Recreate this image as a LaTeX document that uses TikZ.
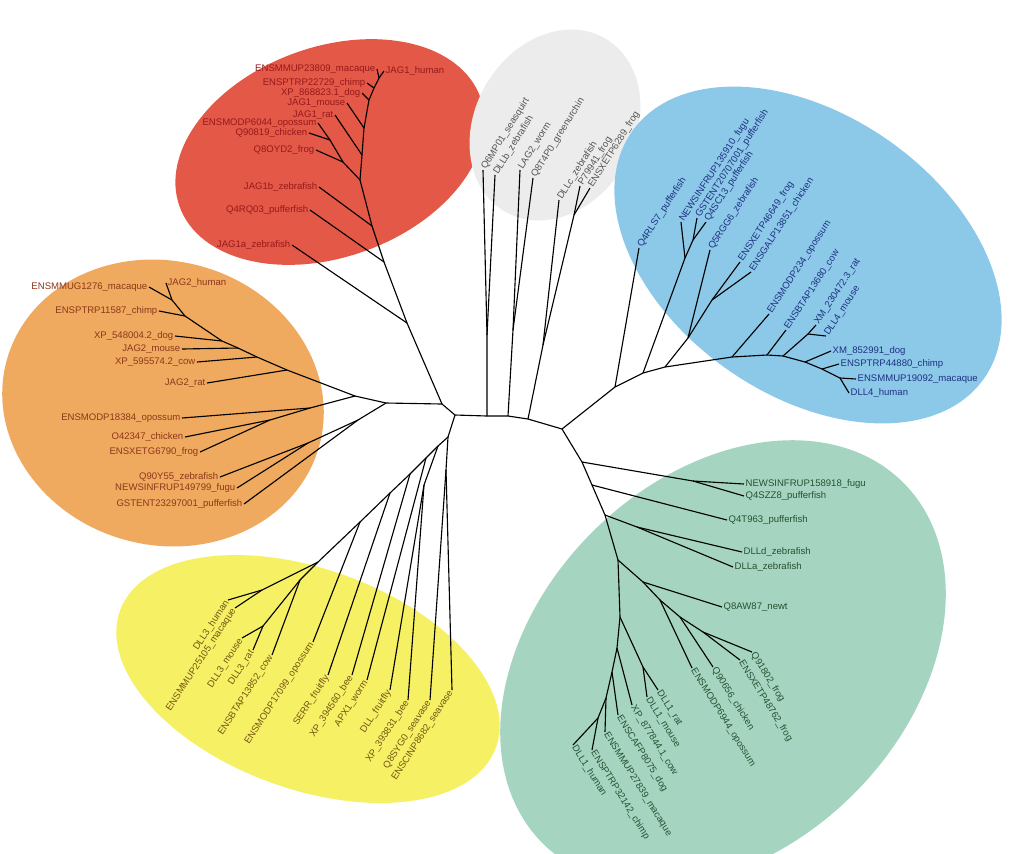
\documentclass[tikz,border=0pt]{standalone}
\usepackage{fontspec}
\setmainfont{Liberation Sans}
\usetikzlibrary{positioning}

\definecolor{redfill}{RGB}{228,88,72}
\definecolor{redtext}{RGB}{150,25,25}
\definecolor{grayfill}{RGB}{236,236,236}
\definecolor{graytext}{RGB}{85,85,85}
\definecolor{bluefill}{RGB}{140,200,232}
\definecolor{bluetext}{RGB}{30,50,130}
\definecolor{orgfill}{RGB}{240,170,95}
\definecolor{orgtext}{RGB}{140,55,25}
\definecolor{yelfill}{RGB}{246,240,100}
\definecolor{yeltext}{RGB}{115,85,20}
\definecolor{grnfill}{RGB}{165,213,192}
\definecolor{grntext}{RGB}{40,80,50}

\begin{document}
\begin{tikzpicture}[x=0.25mm, y=-0.25mm,
  br/.style={line width=0.8pt, black, line join=round},
  lbl/.style={inner sep=1pt, font=\fontsize{6.8}{8}\selectfont},
  redlbl/.style={lbl, text=redtext, anchor=east},
  graylbl/.style={lbl, text=graytext, rotate=58, anchor=west},
  bluelbl/.style={lbl, text=bluetext, rotate=57, anchor=west},
  bluehlbl/.style={lbl, text=bluetext, anchor=west},
  orglbl/.style={lbl, text=orgtext, anchor=east},
  yellbl/.style={lbl, text=yeltext, rotate=57, anchor=east},
  grnlbl/.style={lbl, text=grntext, rotate=-58, anchor=west},
  grnhlbl/.style={lbl, text=grntext, anchor=west},
]

% ---- background ----
\fill[white] (0,0) rectangle (1011,853);
\useasboundingbox (0,0) rectangle (1011,853);
\fill[redfill, rotate around={20:(330,152)}] (330,152) ellipse [x radius=160, y radius=105];
\fill[grayfill, rotate around={60:(555,125)}] (555,125) ellipse [x radius=100, y radius=80];
\fill[bluefill, rotate around={-35:(808,255)}] (808,255) ellipse [x radius=215, y radius=140];
\fill[orgfill, rotate around={-15:(163,403)}] (163,403) ellipse [x radius=162, y radius=142];
\fill[yelfill, rotate around={-20:(308,679)}] (308,679) ellipse [x radius=200, y radius=110];
\fill[grnfill, rotate around={45:(723,663)}] (723,663) ellipse [x radius=255, y radius=185];

% ---- centre ----
\coordinate (ca) at (455,415);
\coordinate (cb) at (487,416);
\coordinate (cc) at (508,416);
\coordinate (cd) at (528,419);
\coordinate (ce) at (562,429);
\coordinate (cf) at (442,404);
\draw[br] (cf) -- (ca) -- (cb) -- (cc) -- (cd) -- (ce);

% ---- JAG1 ----
\node[redlbl] (jag1-macaque) at (377,69) {ENSMMUP23809\_macaque};
\node[redlbl, anchor=west] (jag1-human) at (384,71) {JAG1\_human};
\node[redlbl] (jag1-chimp) at (367,83) {ENSPTRP22729\_chimp};
\node[redlbl] (jag1-dog) at (362,93) {XP\_868823.1\_dog};
\node[redlbl] (jag1-mouse) at (347,103) {JAG1\_mouse};
\node[redlbl] (jag1-rat) at (335,115) {JAG1\_rat};
\node[redlbl] (jag1-opossum) at (318,123) {ENSMODP6044\_opossum};
\node[redlbl] (jag1-chicken) at (309,133) {Q90819\_chicken};
\node[redlbl] (jag1-frog) at (316,150) {Q8OYD2\_frog};
\node[redlbl] (jag1b-zebrafish) at (319,187) {JAG1b\_zebrafish};
\node[redlbl] (jag1-pufferfish) at (310,210) {Q4RQ03\_pufferfish};
\node[redlbl] (jag1a-zebrafish) at (292,245) {JAG1a\_zebrafish};

\coordinate (r1) at (407,323);
\coordinate (r2) at (384,262);
\coordinate (r3) at (372,226);
\coordinate (r4) at (360,180);
\coordinate (r5) at (343,162);
\coordinate (r5b) at (330,140);
\coordinate (r6) at (362,155);
\coordinate (r7) at (364,128);
\coordinate (r8) at (369,100);
\coordinate (r9) at (374,88);
\coordinate (r10) at (379,78);

\draw[br] (cf) -- (r1) -- (r2) -- (r3) -- (r4) -- (r6) -- (r7) -- (r8) -- (r9) -- (r10) -- (jag1-human.west);
\draw[br] (r10) -- (jag1-macaque.east);
\draw[br] (r9) -- (jag1-chimp.east);
\draw[br] (r8) -- (jag1-dog.east);
\draw[br] (r7) -- (jag1-mouse.east);
\draw[br] (r6) -- (jag1-rat.east);
\draw[br] (r4) -- (r5) -- (r5b) -- (jag1-opossum.east);
\draw[br] (r5b) -- (jag1-chicken.east);
\draw[br] (r5) -- (jag1-frog.east);
\draw[br] (r3) -- (jag1b-zebrafish.east);
\draw[br] (r2) -- (jag1-pufferfish.east);
\draw[br] (r1) -- (jag1a-zebrafish.east);

% ---- invertebrate / DLLb-c ----
\node[graylbl] (dl-seasquirt) at (483,170) {Q6MP01\_seasquirt};
\node[graylbl] (dllb-zebrafish) at (495,175) {DLLb\_zebrafish};
\node[graylbl] (lag2-worm) at (520,170) {LAG2\_worm};
\node[graylbl] (dl-urchin) at (533,178) {Q8T4P0\_greenurchin};
\node[graylbl] (dllc-zebrafish) at (559,200) {DLLc\_zebrafish};
\node[graylbl] (dl-frog-a) at (580,186) {P79941\_frog};
\node[graylbl] (dl-frog-b) at (590,188) {ENSXETP6289\_frog};

\coordinate (g1) at (487,335);
\coordinate (g2) at (513,330);
\coordinate (g3) at (543,345);
\coordinate (g4) at (574,215);

\draw[br] (cb) -- (g1) -- (dl-seasquirt.west);
\draw[br] (g1) -- (dllb-zebrafish.west);
\draw[br] (cc) -- (g2) -- (lag2-worm.west);
\draw[br] (g2) -- (dl-urchin.west);
\draw[br] (cd) -- (g3) -- (dllc-zebrafish.west);
\draw[br] (g3) -- (g4) -- (dl-frog-a.west);
\draw[br] (g4) -- (dl-frog-b.west);

% ---- DLL4 ----
\node[bluelbl] (dll4-pufferfish-a) at (639,248) {Q4RLS7\_pufferfish};
\node[bluelbl] (dll4-fugu) at (681,222) {NEWSINFRUP135910\_fugu};
\node[bluelbl] (dll4-pufferfish-b) at (697,218) {GSTENT20707001\_pufferfish};
\node[bluelbl] (dll4-pufferfish-c) at (706,222) {Q4SC13\_pufferfish};
\node[bluelbl] (dll4-zebrafish) at (710,250) {Q5RGG6\_zebrafish};
\node[bluelbl] (dll4-frog) at (740,262) {ENSXETP46649\_frog};
\node[bluelbl] (dll4-chicken) at (751,272) {ENSGALP13851\_chicken};
\node[bluelbl] (dll4-opossum) at (769,314) {ENSMODP234\_opossum};
\node[bluelbl] (dll4-cow) at (786,330) {ENSBTAP13680\_cow};
\node[bluelbl] (dll4-rat) at (816,325) {XM\_230472.3\_rat};
\node[bluelbl] (dll4-mouse) at (826,336) {DLL4\_mouse};
\node[bluehlbl] (dll4-dog) at (831,351) {XM\_852991\_dog};
\node[bluehlbl] (dll4-chimp) at (839,364) {ENSPTRP44880\_chimp};
\node[bluehlbl] (dll4-macaque) at (856,379) {ENSMMUP19092\_macaque};
\node[bluehlbl] (dll4-human) at (849,393) {DLL4\_human};

\coordinate (b1) at (615,387);
\coordinate (b2) at (643,373);
\coordinate (b2a) at (685,258);
\coordinate (b2b) at (693,240);
\coordinate (b3) at (665,367);
\coordinate (b3a) at (688,338);
\coordinate (b4) at (712,300);
\coordinate (b5) at (732,357);
\coordinate (b6) at (767,355);
\coordinate (b7) at (783,356);
\coordinate (b7a) at (808,334);
\coordinate (b8) at (805,362);
\coordinate (b9) at (822,369);
\coordinate (b10) at (840,378);

\draw[br] (ce) -- (b1) -- (b2) -- (b3) -- (b5) -- (b6) -- (b7) -- (b8) -- (b9) -- (b10) -- (dll4-human.west);
\draw[br] (b1) -- (dll4-pufferfish-a.west);
\draw[br] (b2) -- (b2a) -- (dll4-fugu.west);
\draw[br] (b2a) -- (b2b) -- (dll4-pufferfish-b.west);
\draw[br] (b2b) -- (dll4-pufferfish-c.west);
\draw[br] (b3) -- (b3a) -- (dll4-zebrafish.west);
\draw[br] (b3a) -- (b4) -- (dll4-frog.west);
\draw[br] (b4) -- (dll4-chicken.west);
\draw[br] (b5) -- (dll4-opossum.west);
\draw[br] (b6) -- (dll4-cow.west);
\draw[br] (b7) -- (b7a) -- (dll4-rat.west);
\draw[br] (b7a) -- (dll4-mouse.west);
\draw[br] (b8) -- (dll4-dog.west);
\draw[br] (b9) -- (dll4-chimp.west);
\draw[br] (b10) -- (dll4-macaque.west);

% ---- JAG2 ----
\node[orglbl] (jag2-macaque) at (149,287) {ENSMMUG1276\_macaque};
\node[orglbl, anchor=west] (jag2-human) at (166,283) {JAG2\_human};
\node[orglbl] (jag2-chimp) at (159,311) {ENSPTRP11587\_chimp};
\node[orglbl] (jag2-dog) at (175,336) {XP\_548004.2\_dog};
\node[orglbl] (jag2-mouse) at (182,349) {JAG2\_mouse};
\node[orglbl] (jag2-cow) at (197,362) {XP\_595574.2\_cow};
\node[orglbl] (jag2-rat) at (207,383) {JAG2\_rat};
\node[orglbl] (jag2-opossum) at (182,418) {ENSMODP18384\_opossum};
\node[orglbl] (jag2-chicken) at (185,437) {O42347\_chicken};
\node[orglbl] (jag2-frog) at (200,452) {ENSXETG6790\_frog};
\node[orglbl] (jag2-zebrafish) at (220,477) {Q90Y55\_zebrafish};
\node[orglbl] (jag2-fugu) at (237,488) {NEWSINFRUP149799\_fugu};
\node[orglbl] (jag2-pufferfish) at (244,504) {GSTENT23297001\_pufferfish};

\coordinate (o0) at (386,403);
\coordinate (o1) at (355,396);
\coordinate (o2) at (287,370);
\coordinate (o3) at (257,357);
\coordinate (o4) at (238,348);
\coordinate (o5) at (222,341);
\coordinate (o6) at (185,316);
\coordinate (o7) at (172,300);
\coordinate (oo) at (310,408);
\coordinate (oo1) at (270,420);
\coordinate (of) at (358,420);
\coordinate (of1) at (308,443);

\draw[br] (cf) -- (o0) -- (o1) -- (o2) -- (o3) -- (o4) -- (o5) -- (o6) -- (o7) -- (jag2-human.west);
\draw[br] (o7) -- (jag2-macaque.east);
\draw[br] (o6) -- (jag2-chimp.east);
\draw[br] (o5) -- (jag2-dog.east);
\draw[br] (o4) -- (jag2-mouse.east);
\draw[br] (o3) -- (jag2-cow.east);
\draw[br] (o2) -- (jag2-rat.east);
\draw[br] (o1) -- (oo) -- (jag2-opossum.east);
\draw[br] (oo) -- (oo1) -- (jag2-chicken.east);
\draw[br] (oo1) -- (jag2-frog.east);
\draw[br] (o0) -- (of) -- (of1) -- (jag2-zebrafish.east);
\draw[br] (of1) -- (jag2-fugu.east);
\draw[br] (of) -- (jag2-pufferfish.east);

% ---- DLL3 / invertebrates ----
\node[yellbl] (dll3-human) at (228,600) {DLL3\_human};
\node[yellbl] (dll3-macaque) at (235,608) {ENSMMUP25105\_macaque};
\node[yellbl] (dll3-mouse) at (242,638) {DLL3\_mouse};
\node[yellbl] (dll3-rat) at (253,650) {DLL3\_rat};
\node[yellbl] (dll3-cow) at (272,655) {ENSBTAP13852\_cow};
\node[yellbl] (dll3-opossum) at (313,642) {ENSMODP17099\_opossum};
\node[yellbl] (serr-fruitfly) at (328,675) {SERR\_fruitfly};
\node[yellbl] (serr-bee) at (352,675) {XP\_394560\_bee};
\node[yellbl] (apx1-worm) at (367,680) {APX1\_worm};
\node[yellbl] (dl-fruitfly) at (390,690) {DLL\_fruitfly};
\node[yellbl] (dl-bee) at (408,700) {XP\_393831\_bee};
\node[yellbl] (dl-seavase-a) at (430,700) {Q8SYG0\_seavase};
\node[yellbl] (dl-seavase-b) at (452,690) {ENSCINP8682\_seavase};

\coordinate (ya) at (448,437);
\coordinate (ysea) at (446,470);
\coordinate (yb) at (438,446);
\coordinate (yi) at (424,485);
\coordinate (yc) at (426,458);
\coordinate (yd) at (410,474);
\coordinate (ye) at (390,493);
\coordinate (yf) at (360,522);
\coordinate (y0) at (318,562);
\coordinate (y1) at (262,590);
\coordinate (y2) at (300,580);
\coordinate (y3) at (263,626);

\draw[br] (ca) -- (ya) -- (yb) -- (yc) -- (yd) -- (ye) -- (yf) -- (y0) -- (y1) -- (dll3-human.east);
\draw[br] (y1) -- (dll3-macaque.east);
\draw[br] (y0) -- (y2) -- (y3) -- (dll3-mouse.east);
\draw[br] (y3) -- (dll3-rat.east);
\draw[br] (y2) -- (dll3-cow.east);
\draw[br] (yf) -- (dll3-opossum.east);
\draw[br] (ye) -- (serr-fruitfly.east);
\draw[br] (yd) -- (serr-bee.east);
\draw[br] (yc) -- (apx1-worm.east);
\draw[br] (yb) -- (yi) -- (dl-fruitfly.east);
\draw[br] (yi) -- (dl-bee.east);
\draw[br] (ya) -- (ysea) -- (dl-seavase-a.east);
\draw[br] (ysea) -- (dl-seavase-b.east);

% ---- DLL1 ----
\node[grnhlbl] (dll1-fugu) at (744,484) {NEWSINFRUP158918\_fugu};
\node[grnhlbl] (dll1-pufferfish-a) at (744,496) {Q4SZZ8\_pufferfish};
\node[grnhlbl] (dll1-pufferfish-b) at (727,520) {Q4T963\_pufferfish};
\node[grnhlbl] (dlld-zebrafish) at (742,552) {DLLd\_zebrafish};
\node[grnhlbl] (dlla-zebrafish) at (733,567) {DLLa\_zebrafish};
\node[grnhlbl] (dll1-newt) at (722,607) {Q8AW87\_newt};
\node[grnlbl] (dll1-frog-a) at (752,652) {Q91802\_frog};
\node[grnlbl] (dll1-frog-b) at (740,660) {ENSXETP48762\_frog};
\node[grnlbl] (dll1-chicken) at (713,667) {Q90656\_chicken};
\node[grnlbl] (dll1-opossum) at (692,668) {ENSMODP6944\_opossum};
\node[grnlbl] (dll1-rat) at (658,690) {DLL1\_rat};
\node[grnlbl] (dll1-mouse) at (647,697) {DLL1\_mouse};
\node[grnlbl] (dll1-cow) at (632,705) {XP\_877844.1\_cow};
\node[grnlbl] (dll1-dog) at (618,715) {ENSCAFP8075\_dog};
\node[grnlbl] (dll1-macaque) at (605,732) {ENSMMUP27839\_macaque};
\node[grnlbl] (dll1-chimp) at (592,750) {ENSPTRP32142\_chimp};
\node[grnlbl] (dll1-human) at (573,745) {DLL1\_human};

\coordinate (n1) at (582,462);
\coordinate (n1a) at (693,481);
\coordinate (n2) at (592,485);
\coordinate (n3) at (605,515);
\coordinate (n3a) at (637,527);
\coordinate (n4) at (618,560);
\coordinate (n4a) at (643,582);
\coordinate (n5) at (660,600);
\coordinate (n6) at (680,617);
\coordinate (n7) at (703,632);
\coordinate (m1) at (620,617);
\coordinate (m2) at (643,667);
\coordinate (m3) at (617,648);
\coordinate (m4) at (612,672);
\coordinate (m5) at (606,698);
\coordinate (m6) at (598,718);

\draw[br] (ce) -- (n1) -- (n2) -- (n3) -- (n4) -- (m1) -- (m3) -- (m4) -- (m5) -- (m6) -- (dll1-human.west);
\draw[br] (m6) -- (dll1-chimp.west);
\draw[br] (m5) -- (dll1-macaque.west);
\draw[br] (m4) -- (dll1-dog.west);
\draw[br] (m3) -- (dll1-cow.west);
\draw[br] (m1) -- (m2) -- (dll1-rat.west);
\draw[br] (m2) -- (dll1-mouse.west);
\draw[br] (n4) -- (n4a) -- (dll1-newt.west);
\draw[br] (n4a) -- (n5) -- (dll1-opossum.west);
\draw[br] (n5) -- (n6) -- (dll1-chicken.west);
\draw[br] (n6) -- (n7) -- (dll1-frog-a.west);
\draw[br] (n7) -- (dll1-frog-b.west);
\draw[br] (n3) -- (n3a) -- (dlld-zebrafish.west);
\draw[br] (n3a) -- (dlla-zebrafish.west);
\draw[br] (n2) -- (dll1-pufferfish-b.west);
\draw[br] (n1) -- (n1a) -- (dll1-fugu.west);
\draw[br] (n1a) -- (dll1-pufferfish-a.west);

\end{tikzpicture}
\end{document}
